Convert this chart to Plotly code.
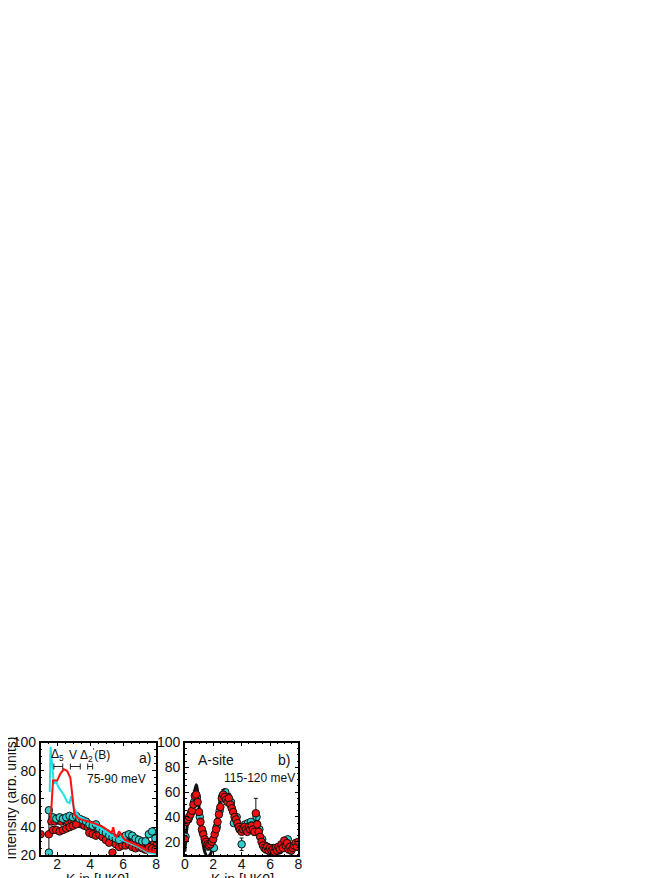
import plotly.graph_objects as go

# ---------------- Panel a data ----------------
a_cyan_line_k = [1.55, 1.6, 1.65, 1.8, 1.95, 2.1, 2.4, 2.6, 2.75, 2.85, 3.0, 3.3, 3.9, 4.7, 5.3, 6.1, 6.9, 7.5, 8.0]
a_cyan_line_y = [65, 97, 90, 71, 72, 68, 63, 58, 57, 62, 54, 48, 44, 39, 34, 30, 26, 22, 21]

a_red_line_k = [1.6, 1.75, 2.0, 2.2, 2.4, 2.6, 2.8, 2.9, 3.05, 3.3, 3.6, 4.2, 4.8, 5.2, 5.3, 5.4, 5.5, 5.6, 5.75, 6.1, 6.9, 7.5, 8.0]
a_red_line_y = [44, 73, 73, 78, 81, 80, 75, 65, 49, 46, 45, 43, 40, 37, 36, 40, 34, 33, 37, 31, 27, 23, 22]

a_cyan_k = [1.5, 1.5, 1.75, 1.95, 2.15, 2.35, 2.55, 2.75, 2.95, 3.15, 3.35, 3.55, 3.75, 3.95, 4.15, 4.35, 4.55, 4.75, 4.95, 5.15, 5.35, 5.55, 5.75, 5.95, 6.15, 6.35, 6.55, 6.75, 6.95, 7.15, 7.35, 7.55, 7.75, 7.95]
a_cyan_y = [52, 22, 47, 46, 47, 46, 47, 48, 47, 48, 46, 45, 44, 42, 41, 42, 39, 37, 36, 34, 33, 32, 31, 33, 34, 35, 34, 32, 31, 30, 30, 35, 37, 32]
a_cyan_err = [0, 0, 0, 0, 0, 0, 0, 0, 0, 0, 0, 0, 0, 0, 0, 0, 0, 0, 0, 0, 0, 0, 0, 0, 0, 0, 0, 0, 0, 0, 0, 0, 0, 0]

a_red1_k = [1.0, 1.5, 1.65, 1.85, 2.05, 2.25, 2.45, 2.65, 2.85, 3.05, 3.25, 3.45, 3.65, 3.85, 4.05, 4.25, 4.45, 4.65, 4.85, 5.05, 5.25, 5.45, 5.65, 5.85, 6.05, 6.25, 6.45, 6.65, 6.85, 7.05, 7.25, 7.45, 7.65, 7.85, 8.0]
a_red1_y = [35, 35, 44, 44, 45, 44, 45, 44, 45, 44, 43, 42, 41, 40, 38, 37, 37, 36, 35, 33, 32, 31, 30, 30, 31, 30, 29, 30, 29, 28, 27, 28, 27, 28, 27]
a_red1_err = [0, 15, 0, 0, 0, 0, 0, 0, 0, 0, 0, 0, 0, 0, 0, 0, 0, 0, 0, 0, 0, 0, 0, 0, 0, 0, 0, 0, 0, 0, 0, 0, 0, 0, 0]

a_red2_k = [1.75, 1.95, 2.15, 2.35, 2.55, 2.75, 2.95, 3.15, 3.95, 4.15, 4.35, 4.55, 4.75, 4.95, 5.15, 5.35, 5.55, 5.75, 5.95, 6.15, 6.35, 6.55, 6.75, 6.95, 7.15, 7.35, 7.55, 7.75, 7.95]
a_red2_y = [38, 38, 37, 38, 39, 40, 41, 42, 36, 35, 34, 35, 33, 31, 29, 22, 28, 26, 27, 27, 28, 26, 25, 26, 25, 24, 26, 25, 24]

# annotation bars (centre, half width) at the top of panel a
bar_k = [2.07, 3.1, 4.0]
bar_half = [0.27, 0.3, 0.15]
bar_y = [83, 83, 83]

# ---------------- Panel b data ----------------
b_line_k = [0, 0.2, 0.4, 0.6, 0.8, 1.0, 1.2, 1.4, 1.6, 1.8, 2.0, 2.2, 2.4, 2.6, 2.8, 3.0, 3.2, 3.4, 3.6, 3.8, 4.0, 4.2, 4.4, 4.6, 4.8, 5.0, 5.2, 5.4, 5.6, 5.8, 6.0, 6.2, 6.4, 6.6, 6.8, 7.0, 7.2, 7.4, 7.6, 7.8, 8.0]
b_line_y = [12, 35, 42, 55, 66, 48, 25, 12, 8, 10, 18, 32, 48, 58, 62, 58, 55, 50, 42, 35, 30, 30, 33, 35, 36, 38, 32, 22, 15, 12, 11, 11, 12, 14, 16, 18, 17, 15, 15, 16, 17]

b_red_k = [0.0, 0.1, 0.2, 0.3, 0.4, 0.5, 0.6, 0.7, 0.8, 0.9, 1.0, 1.1, 1.2, 1.3, 1.4, 1.5, 1.6, 1.7, 1.8, 1.9,
           2.0, 2.1, 2.2, 2.3, 2.4, 2.5, 2.6, 2.7, 2.8, 2.9, 3.0, 3.1, 3.2, 3.3, 3.4, 3.5, 3.6, 3.7, 3.8, 3.9,
           4.0, 4.1, 4.2, 4.3, 4.4, 4.5, 4.6, 4.7, 4.8, 4.9, 5.0, 5.1, 5.2, 5.3, 5.4, 5.5, 5.6, 5.7, 5.8, 5.9,
           6.0, 6.1, 6.2, 6.3, 6.4, 6.5, 6.6, 6.7, 6.8, 6.9, 7.0, 7.1, 7.2, 7.3, 7.4, 7.5, 7.6, 7.7, 7.8, 7.9, 8.0]
b_red_y = [22, 36, 38, 40, 42, 45, 50, 57, 58, 52, 44, 36, 30, 26, 22, 20, 18, 17, 18, 20,
           22, 26, 30, 36, 42, 48, 55, 58, 56, 54, 52, 55, 50, 47, 44, 40, 38, 35, 32, 30,
           28, 30, 32, 30, 28, 32, 30, 33, 30, 28, 43, 34, 28, 24, 20, 17, 15, 14, 16, 13,
           15, 13, 14, 12, 15, 13, 16, 14, 18, 15, 21, 17, 19, 14, 16, 13, 15, 17, 19, 16, 20]
b_red_err = [0, 3, 0, 3, 0, 3, 0, 4, 0, 3, 0, 3, 0, 3, 0, 3, 0, 3, 0, 3,
             0, 3, 0, 3, 0, 4, 0, 4, 0, 3, 0, 4, 0, 3, 0, 3, 0, 3, 0, 3,
             0, 3, 0, 3, 0, 3, 0, 3, 0, 3, 12, 3, 0, 3, 0, 3, 0, 3, 0, 3,
             0, 3, 0, 3, 0, 3, 0, 3, 0, 3, 0, 3, 0, 3, 0, 3, 0, 3, 0, 3, 0]

b_cyan_k = [0.05, 0.25, 0.45, 0.65, 0.85, 1.05, 1.25, 1.45, 1.65, 1.85, 2.05, 2.25, 2.45, 2.65, 2.85, 3.05, 3.25, 3.45, 3.65, 3.85,
            4.0, 4.25, 4.45, 4.65, 4.85, 5.05, 5.25, 5.45, 5.65, 5.85, 6.05, 6.25, 6.45, 6.65, 6.85, 7.05, 7.25, 7.45, 7.65, 7.85]
b_cyan_y = [24, 38, 44, 52, 56, 40, 28, 20, 16, 19, 15, 32, 45, 57, 60, 56, 52, 35, 40, 30,
            18, 34, 35, 36, 32, 40, 30, 22, 17, 14, 12, 15, 14, 13, 16, 20, 22, 14, 16, 18]
b_cyan_err = [0, 0, 0, 0, 0, 0, 0, 0, 0, 0, 0, 0, 0, 0, 0, 0, 0, 0, 0, 0,
              5, 0, 0, 0, 0, 0, 0, 0, 0, 0, 0, 0, 0, 0, 0, 0, 0, 0, 0, 0]

# ---------------- styling ----------------
RED = "#F01010"
CYAN = "#33CCCC"
CYAN_LINE = "#22E0E8"
FONT = "Liberation Sans, Arial, sans-serif"

W, H = 653, 878
OFF_X = 8  # page body margin offset (horizontal)
OFF_Y = 0


def fx(px):
    return (px - OFF_X) / W


def fy(py):
    return (H - (py - OFF_Y)) / H


fig = go.Figure()


def dots(k, y, err, color, xa, ya):
    return go.Scatter(
        x=k, y=y, mode="markers", xaxis=xa, yaxis=ya, showlegend=False,
        marker=dict(size=7.5, color=color, line=dict(color="#111111", width=1)),
        error_y=dict(type="data", array=err, visible=True, color="#111111", thickness=1, width=2),
    )


# panel a
fig.add_trace(dots(a_red1_k, a_red1_y, a_red1_err, RED, "x", "y"))
fig.add_trace(dots(a_red2_k, a_red2_y, [0] * len(a_red2_k), RED, "x", "y"))
fig.add_trace(dots(a_cyan_k, a_cyan_y, a_cyan_err, CYAN, "x", "y"))
fig.add_trace(go.Scatter(x=a_cyan_line_k, y=a_cyan_line_y, mode="lines", xaxis="x", yaxis="y",
                         line=dict(color=CYAN_LINE, width=2), showlegend=False))
fig.add_trace(go.Scatter(x=a_red_line_k, y=a_red_line_y, mode="lines", xaxis="x", yaxis="y",
                         line=dict(color="#FF1010", width=2), showlegend=False))
fig.add_trace(go.Scatter(x=bar_k, y=bar_y, mode="markers", xaxis="x", yaxis="y",
                         marker=dict(size=1, color="rgba(0,0,0,0)"), showlegend=False,
                         error_x=dict(type="data", array=bar_half, visible=True, color="#222222",
                                      thickness=1, width=3)))

# panel b
fig.add_trace(go.Scatter(x=b_line_k, y=b_line_y, mode="lines", xaxis="x2", yaxis="y2",
                         line=dict(color="#111111", width=3, shape="spline"), showlegend=False))
fig.add_trace(dots(b_cyan_k, b_cyan_y, b_cyan_err, CYAN, "x2", "y2"))
fig.add_trace(dots(b_red_k, b_red_y, b_red_err, RED, "x2", "y2"))

ax_common = dict(
    showline=True, linecolor="#000000", linewidth=1.5, mirror="ticks",
    ticks="inside", ticklen=4, tickwidth=1, tickcolor="#000000",
    showgrid=False, zeroline=False,
    tickfont=dict(family=FONT, size=14, color="#111111"),
    minor=dict(ticks="inside", ticklen=2, tickwidth=1, tickcolor="#000000"),
)

y_top = fy(740)
y_bot = fy(855)

fig.update_layout(
    width=W, height=H,
    margin=dict(l=0, r=0, t=0, b=0),
    paper_bgcolor="white", plot_bgcolor="white",
    font=dict(family=FONT, size=12, color="#111111"),
    xaxis=dict(ax_common, domain=[fx(37), fx(154)], range=[1, 8], tickvals=[2, 4, 6, 8],
               ticklabelstandoff=-5, anchor="y"),
    yaxis=dict(ax_common, domain=[y_bot, y_top], range=[20, 100], tickvals=[20, 40, 60, 80, 100],
               ticklabelstandoff=0, anchor="x"),
    xaxis2=dict(ax_common, domain=[fx(183), fx(298)], range=[0, 8], tickvals=[0, 2, 4, 6, 8],
                ticklabelstandoff=-5, anchor="y2"),
    yaxis2=dict(ax_common, domain=[y_bot, y_top], range=[9, 100], tickvals=[20, 40, 60, 80, 100],
                ticklabelstandoff=0, anchor="x2"),
)

ann = []
# axis titles
ann.append(dict(text="Intensity (arb. units)", xref="paper", yref="paper", x=fx(7), y=fy(797),
                textangle=-90, showarrow=False, xanchor="center", yanchor="middle",
                font=dict(family=FONT, size=14, color="#111111")))
ann.append(dict(text="K in [HK0]", xref="paper", yref="paper", x=fx(95), y=fy(869),
                showarrow=False, xanchor="center", yanchor="top",
                font=dict(family=FONT, size=14, color="#111111")))
ann.append(dict(text="K in [HK0]", xref="paper", yref="paper", x=fx(241), y=fy(869),
                showarrow=False, xanchor="center", yanchor="top",
                font=dict(family=FONT, size=14, color="#111111")))
# panel a labels
ann.append(dict(text="Δ<sub>5</sub>", xref="x", yref="y", x=2.05, y=91, showarrow=False,
                font=dict(family=FONT, size=12)))
ann.append(dict(text="V", xref="x", yref="y", x=2.95, y=91, showarrow=False,
                font=dict(family=FONT, size=12)))
ann.append(dict(text="Δ<sub>2</sub><sup>'</sup>(B)", xref="x", yref="y", x=4.3, y=91, showarrow=False,
                font=dict(family=FONT, size=12)))
ann.append(dict(text="a)", xref="x", yref="y", x=7.35, y=89, showarrow=False,
                font=dict(family=FONT, size=14)))
ann.append(dict(text="75-90 meV", xref="x", yref="y", x=5.6, y=74, showarrow=False,
                font=dict(family=FONT, size=12)))
# panel b labels
ann.append(dict(text="A-site", xref="x2", yref="y2", x=2.2, y=86, showarrow=False,
                font=dict(family=FONT, size=14)))
ann.append(dict(text="b)", xref="x2", yref="y2", x=7.0, y=86, showarrow=False,
                font=dict(family=FONT, size=14)))
ann.append(dict(text="115-120 meV", xref="x2", yref="y2", x=5.25, y=71, showarrow=False,
                font=dict(family=FONT, size=12)))
fig.update_layout(annotations=ann)

fig.write_html("out.html", config={"displayModeBar": False})
